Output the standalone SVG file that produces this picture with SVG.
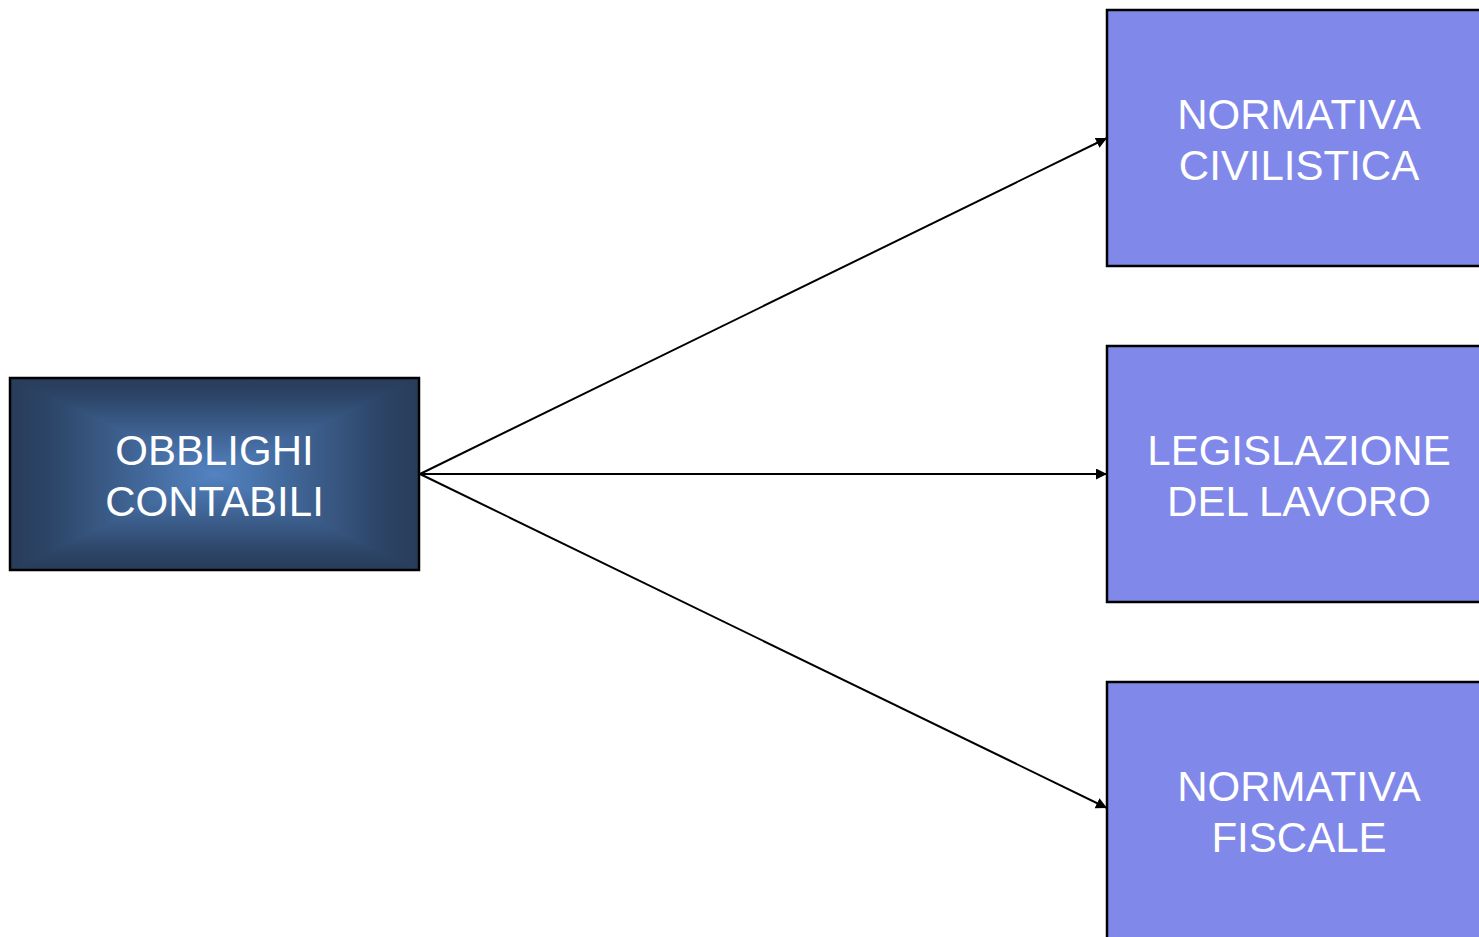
<svg xmlns="http://www.w3.org/2000/svg" width="1479" height="937" viewBox="0 0 1479 937">
  <defs>
    <style>
      .box { fill: #8089EA; stroke: #000; stroke-width: 2.5; }
      .lbl { font-family: "Liberation Sans", Arial, sans-serif; font-size: 42px; fill: #fff; text-anchor: middle; }
      .conn { stroke: #000; stroke-width: 2; fill: none; marker-end: url(#arrow); }
      .shade { shape-rendering: crispEdges; }
    </style>
    <marker id="arrow" viewBox="0 0 10 10" refX="10" refY="5" markerWidth="5.5" markerHeight="5.5" orient="auto" markerUnits="strokeWidth">
      <path d="M0,0 L10,5 L0,10 z" fill="#000"/>
    </marker>
    <!-- rectangular "from centre" shading built from four edge triangles -->
    <linearGradient id="gTop" gradientUnits="userSpaceOnUse" x1="0" y1="378" x2="0" y2="474">
      <stop offset="0" stop-color="#283c5a"/>
      <stop offset="0.18" stop-color="#2c4466"/>
      <stop offset="1" stop-color="#5383c2"/>
    </linearGradient>
    <linearGradient id="gBot" gradientUnits="userSpaceOnUse" x1="0" y1="570" x2="0" y2="474">
      <stop offset="0" stop-color="#283c5a"/>
      <stop offset="0.18" stop-color="#2c4466"/>
      <stop offset="1" stop-color="#5383c2"/>
    </linearGradient>
    <linearGradient id="gLeft" gradientUnits="userSpaceOnUse" x1="10" y1="0" x2="214.5" y2="0">
      <stop offset="0" stop-color="#283c5a"/>
      <stop offset="0.18" stop-color="#2c4466"/>
      <stop offset="1" stop-color="#5383c2"/>
    </linearGradient>
    <linearGradient id="gRight" gradientUnits="userSpaceOnUse" x1="419" y1="0" x2="214.5" y2="0">
      <stop offset="0" stop-color="#283c5a"/>
      <stop offset="0.18" stop-color="#2c4466"/>
      <stop offset="1" stop-color="#5383c2"/>
    </linearGradient>
  </defs>

  <rect width="1479" height="937" fill="#fff"/>

  <g id="connectors">
    <line class="conn" x1="420" y1="474" x2="1107" y2="138"/>
    <line class="conn" x1="420" y1="474" x2="1107" y2="474"/>
    <line class="conn" x1="420" y1="474" x2="1107" y2="808"/>
  </g>

  <g id="obblighi-contabili">
    <g class="shade">
      <polygon points="10,378 419,378 214.5,474" fill="url(#gTop)"/>
      <polygon points="10,570 419,570 214.5,474" fill="url(#gBot)"/>
      <polygon points="10,378 10,570 214.5,474" fill="url(#gLeft)"/>
      <polygon points="419,378 419,570 214.5,474" fill="url(#gRight)"/>
    </g>
    <rect x="10" y="378" width="409" height="192" fill="none" stroke="#000" stroke-width="2.5"/>
    <text class="lbl" x="214.5" y="465">OBBLIGHI</text>
    <text class="lbl" x="214.5" y="516">CONTABILI</text>
  </g>

  <g id="normativa-civilistica">
    <rect class="box" x="1107" y="10" width="390" height="256"/>
    <text class="lbl" x="1299" y="129">NORMATIVA</text>
    <text class="lbl" x="1299" y="180">CIVILISTICA</text>
  </g>

  <g id="legislazione-lavoro">
    <rect class="box" x="1107" y="346" width="390" height="256"/>
    <text class="lbl" x="1299" y="465">LEGISLAZIONE</text>
    <text class="lbl" x="1299" y="516">DEL LAVORO</text>
  </g>

  <g id="normativa-fiscale">
    <rect class="box" x="1107" y="682" width="390" height="270"/>
    <text class="lbl" x="1299" y="801">NORMATIVA</text>
    <text class="lbl" x="1299" y="852">FISCALE</text>
  </g>
</svg>
